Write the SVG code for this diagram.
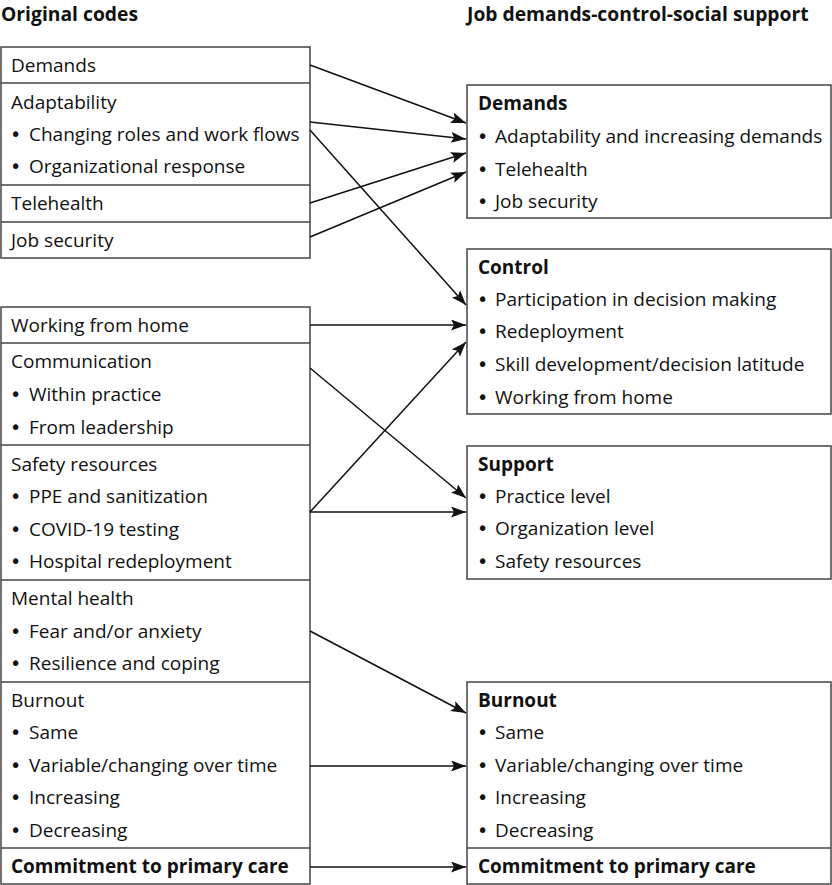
<svg xmlns="http://www.w3.org/2000/svg" width="832" height="885" viewBox="0 0 832 885">
<style>
text{font-family:"Open Sans","Noto Sans","DejaVu Sans",sans-serif;font-size:19px;fill:#111}
.b{font-weight:bold}
.t{font-size:19.3px}
.u{font-family:"DejaVu Sans",sans-serif;font-size:19px}
.box{fill:#fff;stroke:#444;stroke-width:1.5}
.div{stroke:#444;stroke-width:1.5}
.c{stroke:#111;stroke-width:1.5;fill:none;marker-end:url(#ah)}
</style>
<defs>
<marker id="ah" markerUnits="userSpaceOnUse" markerWidth="16" markerHeight="12" refX="15" refY="5.5" orient="auto">
<path d="M0,0 L15,5.5 L0,11 L3,5.5 z" fill="#111"/>
</marker>
</defs>
<text class="b t" x="1" y="20.5">Original codes</text>
<text class="b t" x="467" y="20.5">Job demands-control-social support</text>

<g id="left-top">
<rect class="box" x="1" y="47" width="309" height="211"/>
<line class="div" x1="1" y1="83" x2="310" y2="83"/>
<line class="div" x1="1" y1="185" x2="310" y2="185"/>
<line class="div" x1="1" y1="222" x2="310" y2="222"/>
<text x="11" y="72">Demands</text>
<text x="11" y="109">Adaptability</text>
<text><tspan class="u" x="10" y="141">•</tspan><tspan x="29" y="141">Changing roles and work flows</tspan></text>
<text><tspan class="u" x="10" y="173">•</tspan><tspan x="29" y="173">Organizational response</tspan></text>
<text x="11" y="210">Telehealth</text>
<text x="11" y="247">Job security</text>
</g>

<g id="left-bottom">
<rect class="box" x="1" y="307" width="309" height="577"/>
<line class="div" x1="1" y1="343" x2="310" y2="343"/>
<line class="div" x1="1" y1="445" x2="310" y2="445"/>
<line class="div" x1="1" y1="580" x2="310" y2="580"/>
<line class="div" x1="1" y1="682" x2="310" y2="682"/>
<line class="div" x1="1" y1="848" x2="310" y2="848"/>
<text x="11" y="332">Working from home</text>
<text x="11" y="368">Communication</text>
<text><tspan class="u" x="10" y="401">•</tspan><tspan x="29" y="401">Within practice</tspan></text>
<text><tspan class="u" x="10" y="434">•</tspan><tspan x="29" y="434">From leadership</tspan></text>
<text x="11" y="471">Safety resources</text>
<text><tspan class="u" x="10" y="503">•</tspan><tspan x="29" y="503">PPE and sanitization</tspan></text>
<text><tspan class="u" x="10" y="536">•</tspan><tspan x="29" y="536">COVID-19 testing</tspan></text>
<text><tspan class="u" x="10" y="568">•</tspan><tspan x="29" y="568">Hospital redeployment</tspan></text>
<text x="11" y="605">Mental health</text>
<text><tspan class="u" x="10" y="638">•</tspan><tspan x="29" y="638">Fear and/or anxiety</tspan></text>
<text><tspan class="u" x="10" y="670">•</tspan><tspan x="29" y="670">Resilience and coping</tspan></text>
<text x="11" y="707">Burnout</text>
<text><tspan class="u" x="10" y="739">•</tspan><tspan x="29" y="739">Same</tspan></text>
<text><tspan class="u" x="10" y="772">•</tspan><tspan x="29" y="772">Variable/changing over time</tspan></text>
<text><tspan class="u" x="10" y="804">•</tspan><tspan x="29" y="804">Increasing</tspan></text>
<text><tspan class="u" x="10" y="837">•</tspan><tspan x="29" y="837">Decreasing</tspan></text>
<text class="b" x="11" y="873">Commitment to primary care</text>
</g>

<g id="demands">
<rect class="box" x="467" y="85" width="364" height="133"/>
<text class="b" x="478" y="110">Demands</text>
<text><tspan class="u" x="477" y="143">•</tspan><tspan x="495" y="143">Adaptability and increasing demands</tspan></text>
<text><tspan class="u" x="477" y="176">•</tspan><tspan x="495" y="176">Telehealth</tspan></text>
<text><tspan class="u" x="477" y="208">•</tspan><tspan x="495" y="208">Job security</tspan></text>
</g>

<g id="control">
<rect class="box" x="467" y="249" width="364" height="165"/>
<text class="b" x="478" y="274">Control</text>
<text><tspan class="u" x="477" y="306">•</tspan><tspan x="495" y="306">Participation in decision making</tspan></text>
<text><tspan class="u" x="477" y="338">•</tspan><tspan x="495" y="338">Redeployment</tspan></text>
<text><tspan class="u" x="477" y="371">•</tspan><tspan x="495" y="371">Skill development/decision latitude</tspan></text>
<text><tspan class="u" x="477" y="404">•</tspan><tspan x="495" y="404">Working from home</tspan></text>
</g>

<g id="support">
<rect class="box" x="467" y="446" width="364" height="133"/>
<text class="b" x="478" y="471">Support</text>
<text><tspan class="u" x="477" y="503">•</tspan><tspan x="495" y="503">Practice level</tspan></text>
<text><tspan class="u" x="477" y="535">•</tspan><tspan x="495" y="535">Organization level</tspan></text>
<text><tspan class="u" x="477" y="568">•</tspan><tspan x="495" y="568">Safety resources</tspan></text>
</g>

<g id="burnout">
<rect class="box" x="467" y="682" width="364" height="202"/>
<line class="div" x1="467" y1="848" x2="831" y2="848"/>
<text class="b" x="478" y="707">Burnout</text>
<text><tspan class="u" x="477" y="739">•</tspan><tspan x="495" y="739">Same</tspan></text>
<text><tspan class="u" x="477" y="772">•</tspan><tspan x="495" y="772">Variable/changing over time</tspan></text>
<text><tspan class="u" x="477" y="804">•</tspan><tspan x="495" y="804">Increasing</tspan></text>
<text><tspan class="u" x="477" y="837">•</tspan><tspan x="495" y="837">Decreasing</tspan></text>
<text class="b" x="478" y="873">Commitment to primary care</text>
</g>

<g id="connectors">
<line class="c" x1="310" y1="65" x2="466" y2="123"/>
<line class="c" x1="310" y1="122" x2="466" y2="139"/>
<line class="c" x1="310" y1="130" x2="466" y2="305"/>
<line class="c" x1="310" y1="203" x2="466" y2="153"/>
<line class="c" x1="310" y1="237" x2="466" y2="172"/>
<line class="c" x1="310" y1="325" x2="466" y2="325"/>
<line class="c" x1="310" y1="368" x2="466" y2="498"/>
<line class="c" x1="310" y1="512" x2="466" y2="342"/>
<line class="c" x1="310" y1="512" x2="466" y2="512"/>
<line class="c" x1="310" y1="631" x2="466" y2="713"/>
<line class="c" x1="310" y1="766" x2="466" y2="766"/>
<line class="c" x1="310" y1="867" x2="466" y2="867"/>
</g>
</svg>
